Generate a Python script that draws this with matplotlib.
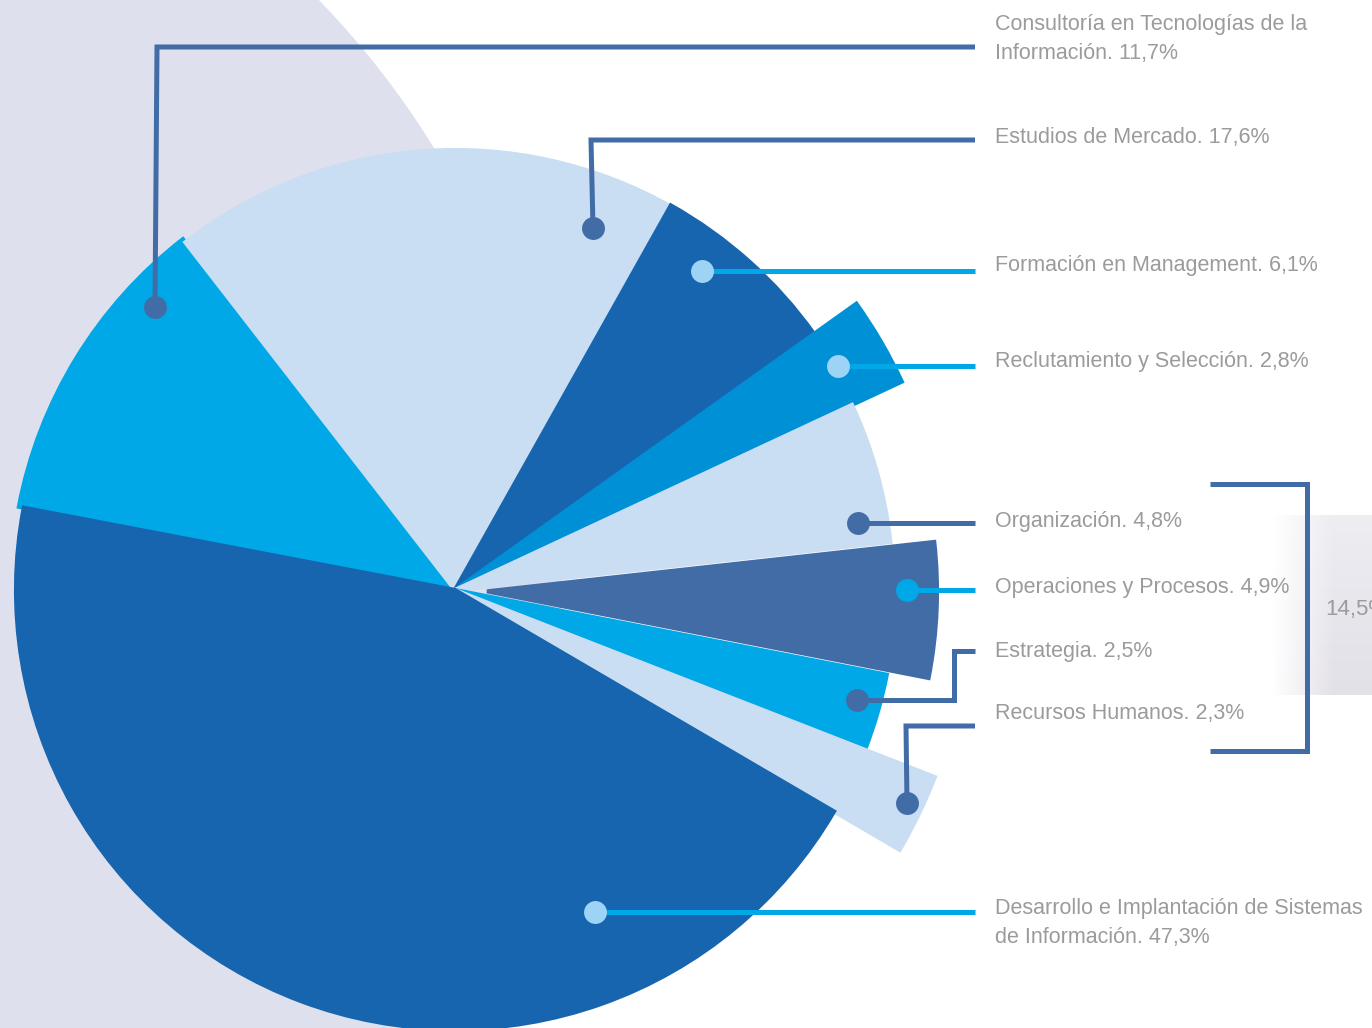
import matplotlib
matplotlib.use("Agg")
import matplotlib.pyplot as plt
from matplotlib.patches import Circle
import numpy as np

W, H = 1372, 1028

# datos del gráfico
areas = ["Consultoría en Tecnologías de la\nInformación",
         "Estudios de Mercado",
         "Formación en Management",
         "Reclutamiento y Selección",
         "Organización",
         "Operaciones y Procesos",
         "Estrategia",
         "Recursos Humanos",
         "Desarrollo e Implantación de Sistemas\nde Información"]
porcentajes = [11.7, 17.6, 6.1, 2.8, 4.8, 4.9, 2.5, 2.3, 47.3]
# abertura de cada porción tal como aparece dibujada (grados)
abertura_deg = [41.4, 67.1, 25.2, 10.5, 18.7, 17.4, 10.2, 9.0, 160.5]
grupo = ["Organización", "Operaciones y Procesos", "Estrategia", "Recursos Humanos"]

# estilos
AZUL = '#1665AE'
CIAN = '#00A8E8'
CLARO = '#C9DEF2'
MEDIO = '#0090D6'
PIZARRA = '#426CA6'
PUNTO = '#9DD3F4'
GRIS = '#9B9B9B'
colores = [CIAN, CLARO, AZUL, MEDIO, CLARO, PIZARRA, CIAN, CLARO, AZUL]
radios = [444, 440, 441, 493, 438, 450, 440, 515, 439]
separacion = [0, 0, 0, 0, 0, 32, 0, 0, 0]

FUENTE = ['Liberation Sans', 'DejaVu Sans']


def Y(y):
    """pasar coordenada de pixel (desde arriba) a coordenada de datos"""
    return H - y


# (punto, recorrido de la guía, y del texto, color punto, color línea)
guias = [
    ((155, 307), [(157, 47), (975, 47)], 39, PIZARRA, PIZARRA),
    ((593, 228), [(591, 140), (975, 140)], 138, PIZARRA, PIZARRA),
    ((702, 271), [(975, 271)], 266, PUNTO, CIAN),
    ((838, 366), [(975, 366)], 361, PUNTO, CIAN),
    ((858, 523), [(975, 523)], 522, PIZARRA, PIZARRA),
    ((907, 590), [(975, 590)], 587, CIAN, CIAN),
    ((857, 700), [(954, 700), (954, 651), (975, 651)], 651, PIZARRA, PIZARRA),
    ((907, 803), [(906, 726), (975, 726)], 714, PIZARRA, PIZARRA),
    ((595, 912), [(975, 912)], 923, PUNTO, CIAN),
]

fig = plt.figure(figsize=(W / 100, H / 100), dpi=100)
ax = fig.add_axes([0, 0, 1, 1])

# fondo: círculo lila y trozo de foto a la derecha
ax.add_patch(Circle((-300, Y(600)), 862, color='#DFE0EE', lw=0, zorder=0))

alto, ancho = 180, 112
t = np.linspace(0, 1, alto)[:, None]
base = np.array([0.93, 0.93, 0.95]) * (1 - t[..., None]) + np.array([0.89, 0.88, 0.91]) * t[..., None]
foto = np.ones((alto, ancho, 4))
foto[..., :3] = base
ramp = np.clip(np.linspace(-0.2, 1.6, ancho), 0, 1)
foto[..., 3] = ramp[None, :]
ax.imshow(foto, extent=(1260, W, Y(695), Y(515)), aspect='auto', zorder=0.5)

# tarta con radios distintos
cuñas, _ = ax.pie(abertura_deg, colors=colores, startangle=169.2, counterclock=False,
                  explode=separacion, radius=1, center=(455, Y(590)),
                  wedgeprops=dict(linewidth=3), frame=True)
for c, r, s in zip(cuñas, radios, separacion):
    c.set_radius(r)
    c.set_edgecolor(c.get_facecolor())
    c.set_zorder(2 if s else 1)

# guías, puntos y textos
for nombre, p, (punto, recorrido, ty, cp, cl) in zip(areas, porcentajes, guias):
    xs = [punto[0]] + [q[0] for q in recorrido]
    ys = [Y(punto[1])] + [Y(q[1]) for q in recorrido]
    ax.plot(xs, ys, color=cl, lw=3.6, solid_capstyle='butt', solid_joinstyle='miter', zorder=3)
    ax.plot(punto[0], Y(punto[1]), 'o', color=cp, markersize=16.5, mec='none', zorder=4)
    etiqueta = f"{nombre}. {str(p).replace('.', ',')}%"
    ax.text(995, Y(ty), etiqueta, color=GRIS, fontsize=15.5, family=FUENTE,
            va='center', ha='left', linespacing=1.55, zorder=5)

# corchete del grupo
ax.plot([1210, 1307, 1307, 1210], [Y(484), Y(484), Y(751), Y(751)], color=PIZARRA,
        lw=3.6, solid_joinstyle='miter', solid_capstyle='butt', zorder=3)
total = sum(p for n, p in zip(areas, porcentajes) if n in grupo)
ax.text(1325, Y(610), f"{total:.1f}%".replace('.', ','), color=GRIS, fontsize=16,
        family=FUENTE, va='center', ha='left', zorder=5)

ax.set_xlim(0, W)
ax.set_ylim(0, H)
ax.set_aspect('auto')
ax.axis('off')

fig.savefig('out.png', dpi=100, facecolor='white')
